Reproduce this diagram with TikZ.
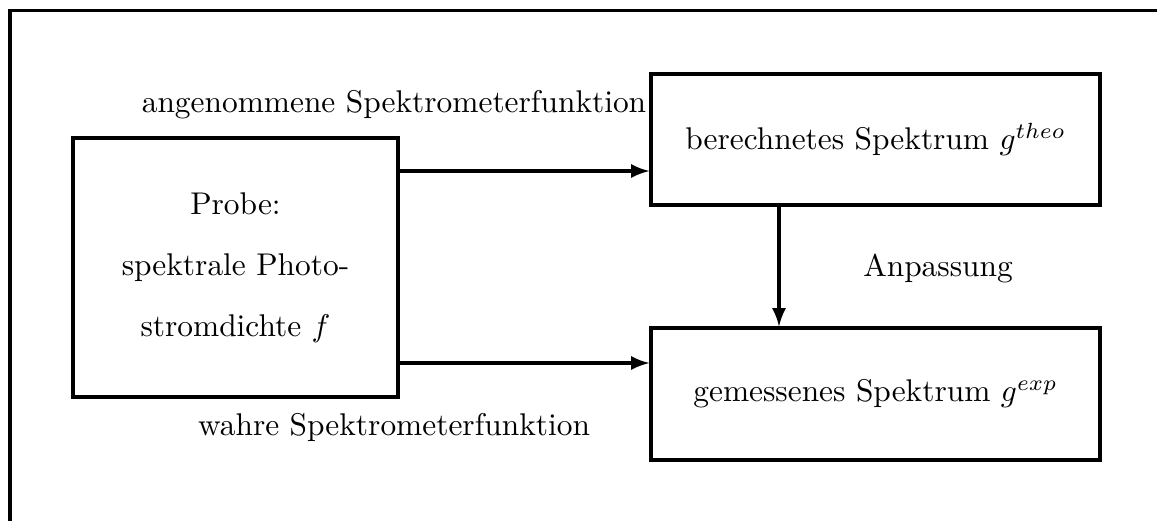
\documentclass[tikz,border=0pt]{standalone}
\usetikzlibrary{arrows}
\begin{document}
\begin{tikzpicture}[x=0.3185pt,y=-0.3185pt,line width=1pt]

\def\px{0.3185pt}
\tikzstyle{block} = [
	draw, rectangle, line width=1pt, align=center ];
\tikzstyle{plain} = [draw=none,fill=none];
\useasboundingbox (0,0) rectangle (1157,521);
\draw (1157,10.5) -- (10,10.5) -- (10,521);

\node[block,minimum width=325*\px,minimum height=259*\px] (probe) at (235.5,267.5)
	{Probe:\\[7.4pt] spektrale Photo-\\[7.4pt] stromdichte $f$};
\node[block,minimum width=449*\px,minimum height=131*\px] (theo) at (875.5,139.5)
	{berechnetes Spektrum $g^{theo}$};
\node[block,minimum width=449*\px,minimum height=132*\px] (gexp) at (875.5,394)
	{gemessenes Spektrum $g^{exp}$};

\node[plain] (ang) at (394,105) {angenommene Spektrometerfunktion};
\node[plain] (wahr) at (394,427) {wahre Spektrometerfunktion};
\node[plain] (anp) at (938,268) {Anpassung};

\draw[-latex] ([yshift=96.5*\px]probe.east) -- ([yshift=96.5*\px]probe.east -| theo.west);
\draw[-latex] ([yshift=-95.5*\px]probe.east) -- ([yshift=-95.5*\px]probe.east -| gexp.west);
\draw[-latex] ([xshift=-96.5*\px]theo.south) -- ([xshift=-96.5*\px]theo.south |- gexp.north);

\end{tikzpicture}
\end{document}
